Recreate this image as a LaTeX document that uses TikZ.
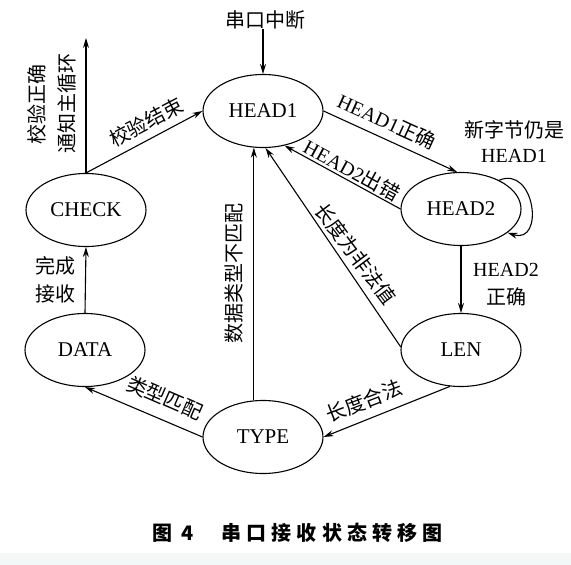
\documentclass[tikz,border=0pt]{standalone}
\usepackage{fontspec}
\setmainfont{Liberation Serif}
\newfontfamily\cjk{Noto Sans CJK SC}
\newfontfamily\cjkcap{Noto Sans CJK SC}[LetterSpace=26]
\usetikzlibrary{arrows.meta,shapes.geometric}
\newcommand\zhtxt[1]{{\cjk #1}}
\definecolor{bandcol}{RGB}{242,248,248}
\begin{document}
\begin{tikzpicture}[x=1pt,y=1pt,
  st/.style={ellipse,draw,line width=1.1pt,minimum width=120pt,minimum height=73pt,inner sep=0pt,font=\fontsize{21}{24}\selectfont},
  ar/.style={line width=1.1pt,-{Stealth[length=10pt,width=6pt]}},
  lbl/.style={inner sep=0pt,font=\fontsize{20}{24}\selectfont},
]
\fill[white] (0,0) rectangle (571,-565);
\fill[bandcol] (0,-553) rectangle (571,-565);
\useasboundingbox (0,0) rectangle (571,-565);

% states
\node[st] (h1)  at (263,-111) {HEAD1};
\node[st] (h2)  at (461,-209) {HEAD2};
\node[st] (chk) at (86,-210)  {CHECK};
\node[st] (dat) at (85,-350)  {DATA};
\node[st] (len) at (461,-350) {LEN};
\node[st] (typ) at (263,-437) {TYPE};

% interrupt entry
\node[lbl] (irq) at (265,-20) {\zhtxt{串口中断}};
\draw[ar] (irq.south -| h1.north) -- (h1.north);

% check result upward
\coordinate (out) at (86,-38);
\draw[ar] (chk.north) -- (out);
\node[lbl,rotate=90] (l1) at (37,-104) {\zhtxt{校验正确}};
\node[lbl,rotate=90] (l2) at (67,-103) {\zhtxt{通知主循环}};

% transitions
\draw[ar] (chk.north) -- (h1.west);
\node[lbl,rotate=27.5] (l3) at (146,-122) {\zhtxt{校验结束}};

\draw[ar] (h1.east) -- (h2.96);
\node[lbl,rotate=-24.5] (l4) at (387,-121) {HEAD1\zhtxt{正确}};

\draw[ar] (h2.west) -- (h1.-58);
\node[lbl,rotate=-28.5] (l5) at (352,-170) {HEAD2\zhtxt{出错}};

\draw[ar] (h2.37) .. controls (535,-165) and (545,-245) .. (h2.-27);
\node[lbl] (l6) at (514,-130) {\zhtxt{新字节仍是}};
\node[lbl] (l7) at (514,-156) {HEAD1};

\draw[ar] (h2.south) -- (len.north);
\node[lbl] (l8) at (506,-270) {HEAD2};
\node[lbl] (l9) at (506,-297) {\zhtxt{正确}};

\draw[ar] (len.177) -- (h1.-86);
\node[lbl,rotate=-53] (l10) at (356,-254) {\zhtxt{长度为非法值}};

\draw[ar] (typ.104) -- (h1.-104);
\node[lbl,rotate=90] (l11) at (234,-273) {\zhtxt{数据类型不匹配}};

\draw[ar] (len.-107) -- (typ.east);
\node[lbl,rotate=21] (l12) at (364,-401) {\zhtxt{长度合法}};

\draw[ar] (typ.west) -- (dat.south);
\node[lbl,rotate=-23.5] (l13) at (165,-398) {\zhtxt{类型匹配}};

\draw[ar] (dat.north) -- (chk.south);
\node[lbl] (l14) at (55,-266) {\zhtxt{完成}};
\node[lbl] (l15) at (55,-294) {\zhtxt{接收}};

% caption
\node[anchor=base west,inner sep=0pt,font=\fontsize{20}{24}\selectfont] (cap) at (152,-540)
  {{\cjk\bfseries 图\hspace{9pt}4}\hspace{28pt}{\cjkcap\bfseries 串口接收状态转移图}};
\end{tikzpicture}
\end{document}
